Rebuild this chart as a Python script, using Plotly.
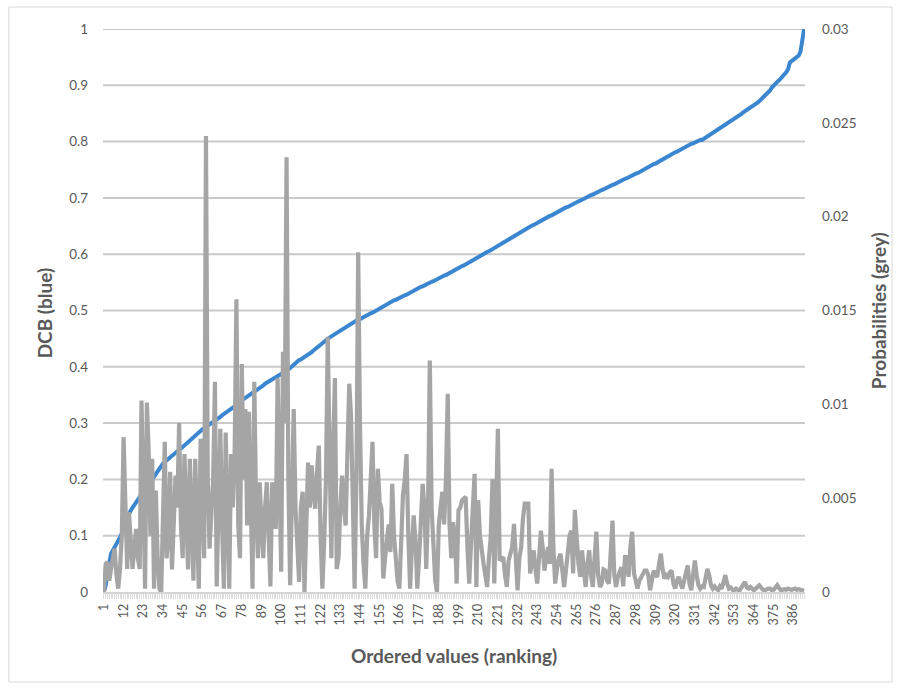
import plotly.graph_objects as go

# DCB values in ranking order (left axis)
dcb = [
    0.000, 0.012, 0.034, 0.055, 0.068, 0.074, 0.079, 0.085, 0.090, 0.097,
    0.104, 0.111, 0.121, 0.131, 0.140, 0.145, 0.150, 0.155, 0.159, 0.163,
    0.168, 0.172, 0.177, 0.182, 0.187, 0.191, 0.196, 0.200, 0.205, 0.210,
    0.215, 0.220, 0.225, 0.228, 0.231, 0.234, 0.237, 0.240, 0.243, 0.245,
    0.248, 0.250, 0.252, 0.255, 0.258, 0.261, 0.264, 0.267, 0.270, 0.273,
    0.276, 0.279, 0.282, 0.285, 0.287, 0.289, 0.291, 0.293, 0.295, 0.297,
    0.299, 0.301, 0.303, 0.306, 0.308, 0.311, 0.314, 0.316, 0.319, 0.322,
    0.324, 0.326, 0.328, 0.330, 0.332, 0.335, 0.338, 0.340, 0.342, 0.345,
    0.347, 0.349, 0.351, 0.353, 0.355, 0.357, 0.360, 0.362, 0.365, 0.367,
    0.370, 0.372, 0.374, 0.376, 0.378, 0.381, 0.383, 0.385, 0.387, 0.388,
    0.390, 0.391, 0.392, 0.395, 0.398, 0.400, 0.403, 0.406, 0.409, 0.412,
    0.413, 0.415, 0.416, 0.418, 0.420, 0.423, 0.426, 0.429, 0.431, 0.434,
    0.437, 0.439, 0.442, 0.445, 0.447, 0.449, 0.452, 0.454, 0.456, 0.459,
    0.461, 0.463, 0.466, 0.468, 0.470, 0.472, 0.473, 0.475, 0.477, 0.478,
    0.480, 0.482, 0.483, 0.485, 0.486, 0.488, 0.490, 0.491, 0.493, 0.495,
    0.496, 0.498, 0.500, 0.502, 0.504, 0.506, 0.508, 0.510, 0.512, 0.514,
    0.515, 0.516, 0.518, 0.519, 0.521, 0.522, 0.524, 0.525, 0.527, 0.528,
    0.530, 0.532, 0.533, 0.535, 0.537, 0.538, 0.540, 0.542, 0.543, 0.545,
    0.546, 0.548, 0.549, 0.551, 0.552, 0.554, 0.555, 0.557, 0.558, 0.560,
    0.562, 0.563, 0.565, 0.567, 0.568, 0.570, 0.572, 0.573, 0.575, 0.577,
    0.579, 0.580, 0.582, 0.584, 0.585, 0.587, 0.589, 0.591, 0.592, 0.594,
    0.596, 0.598, 0.600, 0.602, 0.604, 0.605, 0.607, 0.609, 0.611, 0.613,
    0.615, 0.617, 0.619, 0.621, 0.623, 0.625, 0.627, 0.629, 0.631, 0.633,
    0.635, 0.637, 0.638, 0.640, 0.642, 0.644, 0.645, 0.647, 0.649, 0.651,
    0.652, 0.654, 0.656, 0.658, 0.659, 0.661, 0.663, 0.664, 0.666, 0.668,
    0.669, 0.671, 0.673, 0.675, 0.676, 0.678, 0.680, 0.681, 0.683, 0.684,
    0.686, 0.688, 0.689, 0.691, 0.692, 0.694, 0.695, 0.697, 0.699, 0.700,
    0.702, 0.703, 0.705, 0.706, 0.708, 0.709, 0.711, 0.712, 0.714, 0.715,
    0.717, 0.718, 0.720, 0.721, 0.723, 0.724, 0.726, 0.727, 0.729, 0.731,
    0.732, 0.734, 0.735, 0.737, 0.738, 0.740, 0.741, 0.743, 0.744, 0.746,
    0.747, 0.749, 0.751, 0.753, 0.754, 0.756, 0.758, 0.760, 0.761, 0.763,
    0.765, 0.767, 0.769, 0.770, 0.772, 0.774, 0.776, 0.777, 0.779, 0.781,
    0.782, 0.784, 0.786, 0.788, 0.789, 0.791, 0.793, 0.794, 0.796, 0.797,
    0.799, 0.801, 0.802, 0.803, 0.803, 0.805, 0.807, 0.809, 0.811, 0.813,
    0.815, 0.817, 0.819, 0.821, 0.823, 0.825, 0.827, 0.830, 0.832, 0.834,
    0.836, 0.838, 0.841, 0.843, 0.845, 0.847, 0.849, 0.852, 0.854, 0.856,
    0.858, 0.860, 0.862, 0.865, 0.867, 0.869, 0.872, 0.875, 0.877, 0.880,
    0.883, 0.887, 0.891, 0.896, 0.900, 0.903, 0.906, 0.909, 0.912, 0.915,
    0.919, 0.923, 0.928, 0.940, 0.943, 0.945, 0.947, 0.950, 0.953, 0.960,
    0.985, 1.000,
]

# Probability attached to each ranked value (right axis)
probabilities = [
    0, 0.0015, 0.0016, 0.0006, 0.00123, 0.0018, 0.00231, 0.0009, 0.00018, 0.00123,
    0.003, 0.00825, 0.0036, 0.00123, 0.00426, 0.0027, 0.00123, 0.0024, 0.00336, 0.0018,
    0.00123, 0.0102, 0.0045, 0.00018, 0.0101, 0.0075, 0.003, 0.0071, 0.00018, 0.0054,
    0.0018, 0.00018, 0, 0.0045, 0.008, 0.0018, 0.003, 0.0064, 0.0012, 0.0036,
    0.0062, 0.0045, 0.009, 0.0036, 0.0018, 0.00735, 0.0045, 0.0012, 0.0071, 0.003,
    0.0006, 0.0071, 0.0036, 0.00018, 0.00816, 0.0045, 0.0018, 0.0243, 0.006, 0.00231,
    0.0045, 0.006, 0.0112, 0.0003, 0.0045, 0.0087, 0.0036, 0.00018, 0.0085, 0.003,
    0.00018, 0.00735, 0.0045, 0.00735, 0.0156, 0.0036, 0.0018, 0.01215, 0.006, 0.00975,
    0.00354, 0.0096, 0.0045, 0.00018, 0.0112, 0.0045, 0.0018, 0.00585, 0.0036, 0.0018,
    0.0045, 0.00585, 0.003, 0.0003, 0.00585, 0.0045, 0.00336, 0.0114, 0.006, 0.00108,
    0.0128, 0.009, 0.02316, 0.006, 0.00036, 0.0045, 0.00975, 0.0045, 0.00267, 0.00054,
    0.0045, 0.00534, 0, 0.003, 0.0069, 0.0045, 0.00675, 0.0054, 0.00444, 0.0064,
    0.0078, 0.003, 0.00018, 0.00267, 0.006, 0.0136, 0.006, 0.0018, 0.0075, 0.0114,
    0.00123, 0.0018, 0.0045, 0.0062, 0.0045, 0.00354, 0.0075, 0.0111, 0.0094, 0.0045,
    0.00018, 0.006, 0.0181, 0.009, 0.00354, 0.0015, 0.00018, 0.003, 0.00408, 0.006,
    0.008, 0.0036, 0.0018, 0.00657, 0.0048, 0.00444, 0.00072, 0.0018, 0.00267, 0.0036,
    0.00213, 0.00576, 0.003, 0.0018, 0.0006, 0.00018, 0.00231, 0.00516, 0.006, 0.00735,
    0.003, 0.00018, 0.0024, 0.00408, 0.0027, 0.00018, 0.0018, 0.0036, 0.00576, 0.0045,
    0.00123, 0.0045, 0.01233, 0.0045, 0.0018, 0.0006, 0, 0.00354, 0.0045, 0.00534,
    0.0036, 0.006, 0.01056, 0.0036, 0.0018, 0.00372, 0.003, 0.00045, 0.00435, 0.0045,
    0.00489, 0.00495, 0.00507, 0.0024, 0.00045, 0.00258, 0.0045, 0.0063, 0.00027, 0.00489,
    0.003, 0.00204, 0.0015, 0.0009, 0.00027, 0.0018, 0.00294, 0.006, 0.00045, 0.0045,
    0.0087, 0.00168, 0.0018, 0.00186, 0.0009, 0.00027, 0.00168, 0.0021, 0.0024, 0.00363,
    0.0015, 0.00009, 0.0018, 0.0024, 0.0039, 0.00471, 0.00471, 0.00471, 0.00099, 0.0018,
    0.00222, 0.0012, 0.00045, 0.0018, 0.00327, 0.0024, 0.00114, 0.0018, 0.0024, 0.0015,
    0.00657, 0.0024, 0.00045, 0.0012, 0.0018, 0.00204, 0.0009, 0.00027, 0.00114, 0.0021,
    0.003, 0.00327, 0.00099, 0.00438, 0.0024, 0.0015, 0.00081, 0.00222, 0.0012, 0.00027,
    0.0015, 0.00222, 0.0009, 0.00027, 0.0018, 0.00321, 0.0009, 0.00027, 0.00045, 0.0012,
    0.00114, 0.0006, 0.00045, 0.0018, 0.00381, 0.0009, 0.00027, 0.00081, 0.00105, 0.00132,
    0.0003, 0.00186, 0.00186, 0.00081, 0.0024, 0.00321, 0.00099, 0.00045, 0.00018, 0.0006,
    0.00081, 0.00105, 0.00114, 0.00114, 0.0009, 0.00009, 0.0006, 0.00114, 0.0009, 0.00081,
    0.0015, 0.00204, 0.0012, 0.00072, 0.0009, 0.00081, 0.00105, 0.00114, 0.00045, 0.00018,
    0.0006, 0.00081, 0.00045, 0.00018, 0.0006, 0.00105, 0.00141, 0.00045, 0.00009, 0.0009,
    0.00168, 0.0009, 0.00036, 0.00018, 0.0003, 0.00027, 0.00075, 0.00123, 0.0009, 0.00036,
    0.00018, 0.0003, 0.00018, 0.00009, 0.0003, 0.00018, 0.00054, 0.0009, 0.00045, 0.00018,
    0.00024, 0.00012, 0.00009, 0.00018, 0.00012, 0.00009, 0.00024, 0.00045, 0.00054, 0.00024,
    0.00018, 0.00027, 0.00015, 0.00009, 0.00018, 0.00027, 0.00036, 0.00024, 0.00012, 0.00009,
    0.00015, 0.00018, 0.00018, 0.00009, 0.00012, 0.00024, 0.00036, 0.00021, 0.00009, 0.00012,
    0.00015, 0.00012, 0.00018, 0.00015, 0.00012, 0.00015, 0.00018, 0.00012, 0.00015, 0.00012,
    0.00009, 0.00006,
]

# Ranking positions that carry a label on the category axis
rank_ticks = [1, 12, 23, 34, 45, 56, 67, 78, 89, 100, 111, 122, 133, 144, 155, 166,
              177, 188, 199, 210, 221, 232, 243, 254, 265, 276, 287, 298, 309, 320,
              331, 342, 353, 364, 375, 386]

left_ticks = [0, 0.1, 0.2, 0.3, 0.4, 0.5, 0.6, 0.7, 0.8, 0.9, 1]
left_tick_labels = ["0", "0.1", "0.2", "0.3", "0.4", "0.5", "0.6", "0.7", "0.8", "0.9", "1"]
right_ticks = [0, 0.005, 0.01, 0.015, 0.02, 0.025, 0.03]
right_tick_labels = ["0", "0.005", "0.01", "0.015", "0.02", "0.025", "0.03"]

ranks = list(range(1, len(dcb) + 1))
# a tick mark for every category, text only on the labelled ones
rank_text = [str(r) if r in rank_ticks else "" for r in ranks]

TEXT = "#595959"
GRID = "#cacaca"
FONT = "Lato"
x_lo, x_hi = 0.5, len(dcb) + 0.5

# gridlines as a background line trace (one segment per DCB tick)
grid_x, grid_y = [], []
for v in left_ticks[1:]:
    grid_x += [x_lo, x_hi, None]
    grid_y += [v, v, None]

fig = go.Figure()
fig.add_trace(go.Scatter(
    x=grid_x, y=grid_y, mode="lines", hoverinfo="skip",
    line=dict(color=GRID, width=2), yaxis="y", showlegend=False,
))
fig.add_trace(go.Scatter(
    x=ranks, y=dcb, mode="lines", name="DCB",
    line=dict(color="#3b86d0", width=4), yaxis="y",
))
fig.add_trace(go.Scatter(
    x=ranks, y=probabilities, mode="lines", name="Probabilities",
    line=dict(color="#a5a5a5", width=4.2), yaxis="y2",
))

fig.update_layout(
    template="none",
    width=901, height=689,
    margin=dict(l=103, r=96, t=29, b=97),
    paper_bgcolor="white", plot_bgcolor="white",
    showlegend=False,
    font=dict(family=FONT, color=TEXT, size=13),
    xaxis=dict(
        range=[x_lo, x_hi],
        tickmode="array", tickvals=ranks, ticktext=rank_text,
        tickangle=-90, tickfont=dict(size=12.5, color=TEXT),
        showgrid=False, zeroline=False,
        showline=True, linecolor="#d4d4d4", linewidth=1.5,
        ticks="outside", ticklen=5, tickcolor="#dcdcdc", tickwidth=1,
    ),
    yaxis=dict(
        range=[0, 1], tickmode="array", tickvals=left_ticks, ticktext=left_tick_labels,
        showgrid=False, zeroline=False,
        showline=False, ticks="", ticklabelstandoff=14,
        tickfont=dict(size=13.5, color=TEXT),
    ),
    yaxis2=dict(
        range=[0, 0.03], tickmode="array", tickvals=right_ticks, ticktext=right_tick_labels,
        overlaying="y", side="right", showgrid=False, zeroline=False,
        showline=False, ticks="", ticklabelstandoff=16,
        tickfont=dict(size=13.5, color=TEXT),
    ),
    annotations=[
        dict(text="<b>DCB (blue)</b>", xref="paper", yref="paper", x=-0.084, y=0.495,
             xanchor="center", yanchor="middle",
             textangle=-90, showarrow=False, font=dict(size=19, color=TEXT, family=FONT)),
        dict(text="<b>Probabilities (grey)</b>", xref="paper", yref="paper", x=1.105, y=0.50,
             xanchor="center", yanchor="middle",
             textangle=-90, showarrow=False, font=dict(size=19, color=TEXT, family=FONT)),
        dict(text="<b>Ordered values (ranking)</b>", xref="paper", yref="paper", x=0.50, y=-0.112,
             xanchor="center", yanchor="middle",
             showarrow=False, font=dict(size=19, color=TEXT, family=FONT)),
    ],
)
fig.add_shape(type="rect", xref="paper", yref="paper",
              x0=-0.134, x1=1.124, y0=-0.16, y1=1.039,
              line=dict(color="#d9d9d9", width=1), fillcolor="rgba(0,0,0,0)", layer="above")

fig.write_html("out.html")
